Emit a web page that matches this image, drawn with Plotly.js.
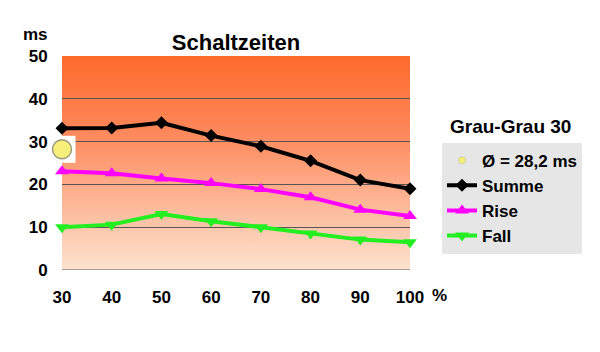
<!DOCTYPE html>
<html><head><meta charset="utf-8">
<script src="https://cdn.plot.ly/plotly-3.0.1.min.js"></script>
<style>body{margin:0;background:#fff}#c{width:600px;height:352px}</style>
</head><body><div id="c"></div>
<script>
const xVals = [30, 40, 50, 60, 70, 80, 90, 100];
const summe = [33.1, 33.2, 34.4, 31.4, 28.9, 25.5, 21.0, 19.0];
const rise  = [23.1, 22.6, 21.4, 20.3, 18.9, 17.0, 14.1, 12.6];
const fall  = [10.0, 10.6, 13.1, 11.4, 10.0, 8.5, 7.1, 6.5];
const avgX = [30];
const avgY = [28.2];
const names = ['Ø = 28,2 ms', 'Summe', 'Rise', 'Fall'];

const font = 'Liberation Sans, Arial, sans-serif';
const svg = '<svg xmlns="http://www.w3.org/2000/svg" width="10" height="100" preserveAspectRatio="none"><defs><linearGradient id="g" x1="0" y1="0" x2="0" y2="1"><stop offset="0" stop-color="#ff6a2c"/><stop offset="0.35" stop-color="#fd875a"/><stop offset="1" stop-color="#fde3cf"/></linearGradient></defs><rect width="10" height="100" fill="url(#g)"/></svg>';
const bg = 'data:image/svg+xml;base64,' + btoa(svg);

const traces = [
  {x: avgX, y: avgY, type: 'scatter', mode: 'markers', showlegend: false, hoverinfo: 'skip', cliponaxis: false,
   marker: {symbol: 'square', size: 27, color: '#ffffff', opacity: 1, line: {width: 0}}},
  {x: avgX, y: avgY, type: 'scatter', mode: 'markers', showlegend: false, cliponaxis: false,
   marker: {symbol: 'circle', size: 19, color: '#f6f07a', line: {width: 1.5, color: '#9a9a80'}}},
  {x: [null], y: [null], type: 'scatter', mode: 'markers', name: names[0],
   marker: {symbol: 'circle', size: 7, color: '#f6f07a', line: {width: 0.5, color: '#b0b090'}}},
  {x: xVals, y: summe, type: 'scatter', mode: 'lines+markers', name: names[1], cliponaxis: false,
   line: {color: '#000000', width: 4}, marker: {symbol: 'diamond', size: 10, color: '#000000'}},
  {x: xVals, y: rise, type: 'scatter', mode: 'lines+markers', name: names[2], cliponaxis: false,
   line: {color: '#ff00ff', width: 4}, marker: {symbol: 'triangle-up', size: 12, color: '#ff00ff'}},
  {x: xVals, y: fall, type: 'scatter', mode: 'lines+markers', name: names[3], cliponaxis: false,
   line: {color: '#22ee22', width: 4}, marker: {symbol: 'triangle-down', size: 12, color: '#22ee22'}}
];

const layout = {
  width: 600, height: 352,
  margin: {l: 62, r: 190, t: 56, b: 82},
  paper_bgcolor: '#ffffff', plot_bgcolor: 'rgba(0,0,0,0)',
  font: {family: font, size: 17, color: '#000'},
  title: {text: '<b>Schaltzeiten</b>', x: 0.5, xref: 'paper', xanchor: 'center', y: 0.88, yref: 'container', yanchor: 'middle', font: {size: 22, family: font, color: '#000'}},
  xaxis: {range: [30, 100], tickvals: xVals, ticktext: xVals.map(v => '<b>' + v + '</b>'),
    showgrid: false, zeroline: false, showline: false, ticks: 'outside', ticklen: 12, tickcolor: 'rgba(0,0,0,0)',
    tickfont: {size: 17, family: font}, fixedrange: true},
  yaxis: {range: [0, 50], tickvals: [0, 10, 20, 30, 40, 50], ticktext: ['0','10','20','30','40','50'].map(v => '<b>' + v + '</b>'),
    showgrid: true, gridcolor: '#555555', gridwidth: 1, zeroline: false, showline: false,
    ticks: 'outside', ticklen: 10, tickcolor: 'rgba(0,0,0,0)', tickfont: {size: 17, family: font}},
  images: [{source: bg, xref: 'paper', yref: 'paper', x: 0, y: 1, sizex: 1, sizey: 1, sizing: 'stretch', layer: 'below', xanchor: 'left', yanchor: 'top'}],
  shapes: [{type: 'line', xref: 'paper', yref: 'y', x0: 0, x1: 1, y0: 0, y1: 0, line: {color: '#555555', width: 1}, layer: 'below'}],
  legend: {x: 1.092, xanchor: 'left', y: 0.595, yanchor: 'top', bgcolor: '#e6e6e6', borderwidth: 0,
    font: {size: 17, family: font, color: '#000', weight: 'bold'}, itemwidth: 30, tracegroupgap: 0},
  annotations: [
    {text: '<b>ms</b>', xref: 'paper', yref: 'paper', x: -0.075, y: 1.1, xanchor: 'center', yanchor: 'middle', showarrow: false, font: {size: 17, family: font}},
    {text: '<b>%</b>', xref: 'paper', yref: 'paper', x: 1.085, y: -0.12, xanchor: 'center', yanchor: 'middle', showarrow: false, font: {size: 17, family: font}},
    {text: '<b>Grau-Grau 30</b>', xref: 'paper', yref: 'paper', x: 1.29, y: 0.67, xanchor: 'center', yanchor: 'middle', showarrow: false, font: {size: 19, family: font}}
  ]
};
Plotly.newPlot('c', traces, layout, {displayModeBar: false, staticPlot: true});
</script></body></html>
